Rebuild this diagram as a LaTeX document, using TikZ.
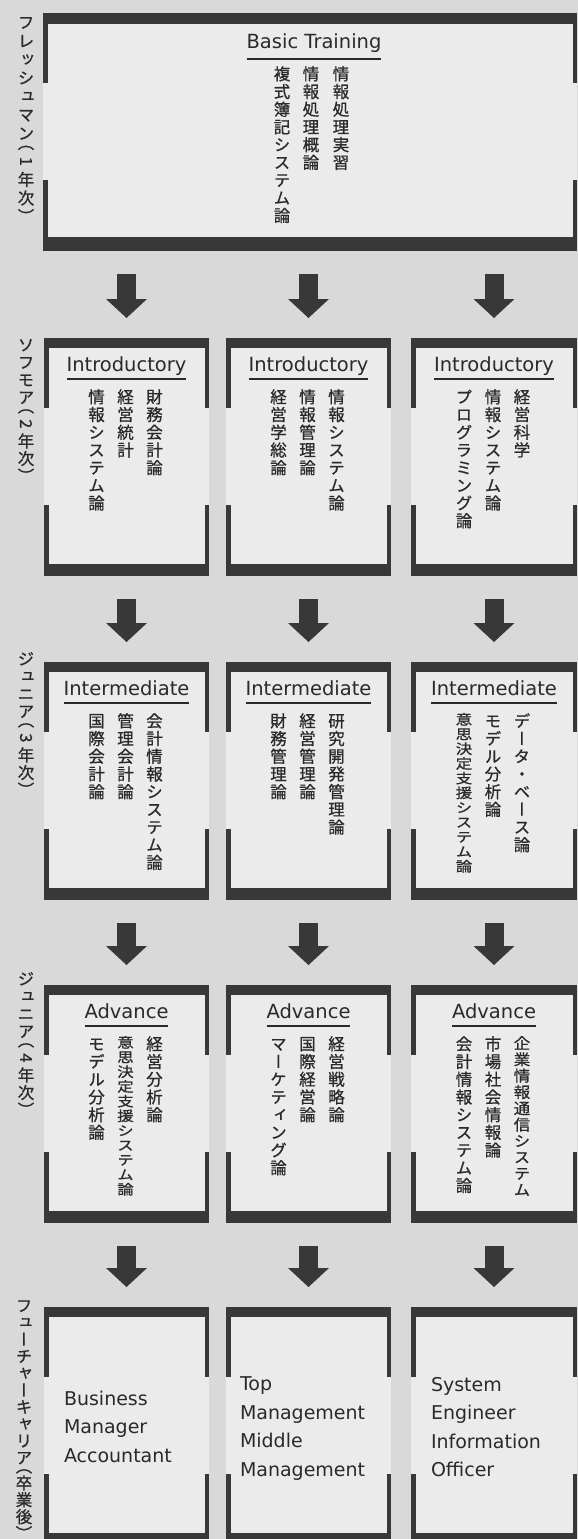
\documentclass[tikz,border=0pt]{standalone}
\usepackage{fontspec}
\usepackage{graphicx}
\usetikzlibrary{arrows.meta}
\setmainfont{DejaVu Sans}
\newfontfamily\cjkv[RawFeature=+vert, FakeBold=0.8]{Noto Sans CJK JP}
\definecolor{bgc}{HTML}{D9D9D9}
\definecolor{boxbg}{HTML}{EBEBEB}
\definecolor{barc}{HTML}{383838}
\definecolor{ink}{HTML}{2A2A2A}

\ExplSyntaxOn
\dim_new:N \l__vt_p_dim
\cs_new_protected:Npn \__vt_cell:nnn #1#2#3
  {
    \hbox_to_wd:nn {1em}
      {
        \hss
        \vrule width 0pt height #2 depth 0pt
        \raise #3 \hbox{\smash{#1}}
        \hss
      }
  }
\NewDocumentCommand \vt { O{17.7pt} m }
  {
    \dim_set:Nn \l__vt_p_dim {#1}
    \vbox
      {
        \offinterlineskip
        \tl_map_inline:nn {#2}
          {
            \str_case:nnF {##1}
              {
                {（} { \__vt_cell:nnn {##1} {\dim_eval:n {0.5\l__vt_p_dim}} {\dim_eval:n {0.5\l__vt_p_dim - 0.38em}} }
                {）} { \__vt_cell:nnn {##1} {\dim_eval:n {0.5\l__vt_p_dim}} {\dim_eval:n {-0.38em}} }
              }
              { \__vt_cell:nnn {##1} {\dim_eval:n {\l__vt_p_dim}} {\dim_eval:n {0.5\l__vt_p_dim - 0.38em}} }
          }
      }
  }
\ExplSyntaxOff

\newcommand\rd[1]{\rotatebox[origin=c]{-90}{#1}}
\newcommand\boxdeco[3]{%
  \fill[barc] (#1.north west) rectangle ([yshift=-#2]#1.north east);
  \fill[barc] ([yshift=#3]#1.south west) rectangle (#1.south east);
  \fill[barc] (#1.north west) rectangle ([xshift=4.5pt,yshift=-70pt]#1.north west);
  \fill[barc] ([yshift=71pt]#1.south west) rectangle ([xshift=4.5pt]#1.south west);
  \fill[barc] (#1.north east) rectangle ([xshift=-4.5pt,yshift=-70pt]#1.north east);
  \fill[barc] ([yshift=71pt]#1.south east) rectangle ([xshift=-4.5pt]#1.south east);
}

\begin{document}
\begin{tikzpicture}[x=1pt,y=-1pt,
  boxn/.style={rectangle, fill=boxbg, draw=none, inner sep=0pt, outer sep=0pt,
    minimum width=165pt, minimum height=238pt, anchor=north west},
  hdr/.style={inner sep=0pt, outer sep=0pt, anchor=base, text=ink,
    font=\fontsize{19.5pt}{23pt}\selectfont},
  uline/.style={draw=ink, line width=1.6pt},
  vtx/.style={inner sep=0pt, outer sep=0pt, anchor=north, text=ink,
    font=\fontsize{16.5pt}{16.5pt}\cjkv},
  lab/.style={inner sep=0pt, outer sep=0pt, anchor=north, text=ink,
    font=\fontsize{16.5pt}{16.5pt}\cjkv},
  career/.style={inner sep=0pt, outer sep=0pt, anchor=north west, align=left, text=ink,
    font=\fontsize{19pt}{28.5pt}\selectfont},
  barrow/.style={draw=barc, line width=19pt, shorten <=23pt, shorten >=20pt,
    -{Triangle[width=41pt,length=19pt,line width=0pt]}}
]
\useasboundingbox (0,0) rectangle (578,1539);
\fill[bgc] (0,0) rectangle (578,1539);

% ---------- boxes ----------
\node[boxn, minimum width=534pt] (b11) at (43,13) {};
\foreach \r/\t in {2/338,3/662,4/985,5/1307}{
  \node[boxn] (b\r1) at (44,\t) {};
  \node[boxn] (b\r2) at (226,\t) {};
  \node[boxn, minimum width=166pt] (b\r3) at (411,\t) {};
}
\boxdeco{b11}{11pt}{14pt}
\foreach \r in {2,3,4,5}{
  \foreach \c in {1,2,3}{
    \boxdeco{b\r\c}{10pt}{12pt}
  }
}

% ---------- arrows ----------
\foreach \c in {1,2,3}{
  \draw[barrow] (b11.south -| b2\c.north) -- (b2\c.north);
  \draw[barrow] (b2\c.south) -- (b3\c.north);
  \draw[barrow] (b3\c.south) -- (b4\c.north);
  \draw[barrow] (b4\c.south) -- (b5\c.north);
}

% ---------- side labels ----------
\node[lab] (l1) at (26,13) {\vt[18.5pt]{フレッシュマン（{\rd{1}}年次）}};
\node[lab] (l2) at (26,336) {\vt[17.5pt]{ソフモア（{\rd{2}}年次）}};
\node[lab] (l3) at (26,650) {\vt[17.5pt]{ジュニア（{\rd{3}}年次）}};
\node[lab] (l4) at (26,970) {\vt[17.5pt]{ジュニア（{\rd{4}}年次）}};
\node[lab] (l5) at (24,1297) {\vt[16.9pt]{フューチャーキャリア（卒業後）}};

% ---------- headers ----------
\node[hdr] (h11) at ([xshift=4pt,yshift=-35pt]b11.north) {Basic Training};
\draw[uline] ([yshift=-11pt]h11.base west) -- ([yshift=-11pt]h11.base east);
\foreach \r/\t in {2/Introductory,3/Intermediate,4/Advance}{
  \foreach \c in {1,2,3}{
    \node[hdr] (h\r\c) at ([yshift=-33pt]b\r\c.north) {\t};
    \draw[uline] ([yshift=-8pt]h\r\c.base west) -- ([yshift=-8pt]h\r\c.base east);
  }
}

% ---------- row 1 ----------
\node[vtx] (t11a) at ([xshift=31pt,yshift=-52pt]b11.north) {\vt{情報処理実習}};
\node[vtx] (t11b) at ([xshift=1pt,yshift=-52pt]b11.north) {\vt{情報処理概論}};
\node[vtx] (t11c) at ([xshift=-28pt,yshift=-52pt]b11.north) {\vt{複式簿記システム論}};

% ---------- row 2 ----------
\node[vtx] (t21a) at ([xshift=28pt,yshift=-50pt]b21.north) {\vt{財務会計論}};
\node[vtx] (t21b) at ([xshift=-1pt,yshift=-50pt]b21.north) {\vt{経営統計}};
\node[vtx] (t21c) at ([xshift=-30pt,yshift=-50pt]b21.north) {\vt{情報システム論}};
\node[vtx] (t22a) at ([xshift=28pt,yshift=-50pt]b22.north) {\vt{情報システム論}};
\node[vtx] (t22b) at ([xshift=-1pt,yshift=-50pt]b22.north) {\vt{情報管理論}};
\node[vtx] (t22c) at ([xshift=-30pt,yshift=-50pt]b22.north) {\vt{経営学総論}};
\node[vtx] (t23a) at ([xshift=28pt,yshift=-50pt]b23.north) {\vt{経営科学}};
\node[vtx] (t23b) at ([xshift=-1pt,yshift=-50pt]b23.north) {\vt{情報システム論}};
\node[vtx] (t23c) at ([xshift=-30pt,yshift=-50pt]b23.north) {\vt{プログラミング論}};

% ---------- row 3 ----------
\node[vtx] (t31a) at ([xshift=28pt,yshift=-50pt]b31.north) {\vt{会計情報システム論}};
\node[vtx] (t31b) at ([xshift=-1pt,yshift=-50pt]b31.north) {\vt{管理会計論}};
\node[vtx] (t31c) at ([xshift=-30pt,yshift=-50pt]b31.north) {\vt{国際会計論}};
\node[vtx] (t32a) at ([xshift=28pt,yshift=-50pt]b32.north) {\vt{研究開発管理論}};
\node[vtx] (t32b) at ([xshift=-1pt,yshift=-50pt]b32.north) {\vt{経営管理論}};
\node[vtx] (t32c) at ([xshift=-30pt,yshift=-50pt]b32.north) {\vt{財務管理論}};
\node[vtx] (t33a) at ([xshift=28pt,yshift=-50pt]b33.north) {\vt{データ・ベース論}};
\node[vtx] (t33b) at ([xshift=-1pt,yshift=-50pt]b33.north) {\vt{モデル分析論}};
\node[vtx] (t33c) at ([xshift=-30pt,yshift=-50pt]b33.north) {\scalebox{1}[.83]{\vt{意思決定支援システム論}}};

% ---------- row 4 ----------
\node[vtx] (t41a) at ([xshift=28pt,yshift=-50pt]b41.north) {\vt{経営分析論}};
\node[vtx] (t41b) at ([xshift=-1pt,yshift=-50pt]b41.north) {\scalebox{1}[.83]{\vt{意思決定支援システム論}}};
\node[vtx] (t41c) at ([xshift=-30pt,yshift=-50pt]b41.north) {\vt{モデル分析論}};
\node[vtx] (t42a) at ([xshift=28pt,yshift=-50pt]b42.north) {\vt{経営戦略論}};
\node[vtx] (t42b) at ([xshift=-1pt,yshift=-50pt]b42.north) {\vt{国際経営論}};
\node[vtx] (t42c) at ([xshift=-30pt,yshift=-50pt]b42.north) {\vt{マーケティング論}};
\node[vtx] (t43a) at ([xshift=28pt,yshift=-50pt]b43.north) {\scalebox{1}[.92]{\vt{企業情報通信システム}}};
\node[vtx] (t43b) at ([xshift=-1pt,yshift=-50pt]b43.north) {\vt{市場社会情報論}};
\node[vtx] (t43c) at ([xshift=-30pt,yshift=-50pt]b43.north) {\vt{会計情報システム論}};

% ---------- row 5 ----------
\node[career] (t51) at ([xshift=20pt,yshift=-84pt]b51.north west) {Business\\Manager\\Accountant};
\node[career] (t52) at ([xshift=14pt,yshift=-70pt]b52.north west) {Top\\Management\\Middle\\Management};
\node[career] (t53) at ([xshift=20pt,yshift=-70pt]b53.north west) {System\\Engineer\\Information\\Officer};
\end{tikzpicture}
\end{document}
